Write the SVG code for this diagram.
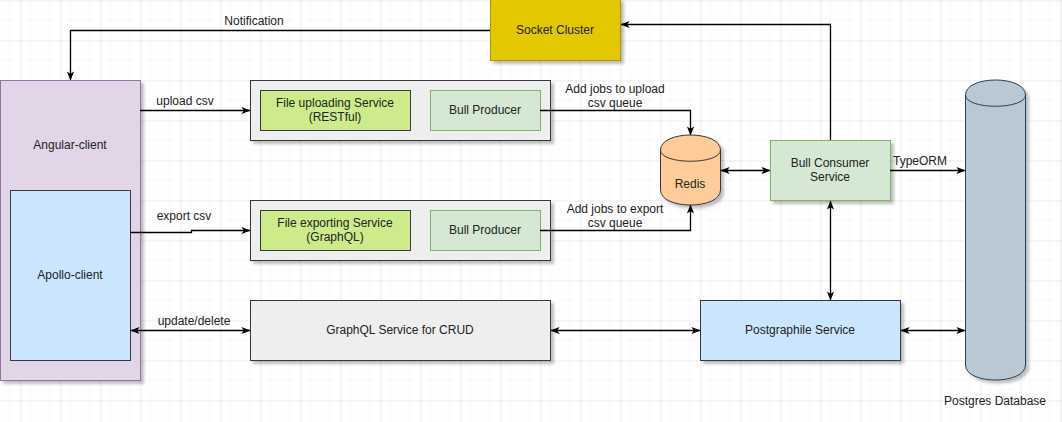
<svg xmlns="http://www.w3.org/2000/svg" width="1062" height="422" viewBox="0 0 1062 422">
<defs>
<pattern id="gmin" width="10" height="10" patternUnits="userSpaceOnUse" x="0.5" y="0.5"><path d="M10,0 V10 M0,10 H10" fill="none" stroke="#f2f2f2" stroke-width="1"/></pattern>
<pattern id="gmaj" width="40" height="40" patternUnits="userSpaceOnUse" x="20.5" y="0.5"><path d="M0,0 V40 M0,0 H40" fill="none" stroke="#dedede" stroke-width="1"/></pattern>
<filter id="sh" x="-10%" y="-10%" width="130%" height="130%"><feDropShadow dx="3" dy="3" stdDeviation="1.5" flood-color="#000" flood-opacity="0.25"/></filter>
<marker id="ar" viewBox="0 0 10 10" refX="9.5" refY="5" markerWidth="9" markerHeight="9" orient="auto-start-reverse" markerUnits="userSpaceOnUse"><path d="M0,1 L10,5 L0,9 L2.5,5 Z" fill="#000"/></marker>
<style>
.t{font-family:"Liberation Sans",Arial,sans-serif;font-size:12px;fill:#222;text-anchor:middle}
.tl{font-family:"Liberation Sans",Arial,sans-serif;font-size:12px;fill:#222}
.e{fill:none;stroke:#000;stroke-width:1.3}
.s{filter:url(#sh)}
</style>
</defs>
<rect width="1062" height="422" fill="#fff"/>
<rect width="1062" height="422" fill="url(#gmin)"/>
<rect width="1062" height="422" fill="url(#gmaj)"/>

<g id="angular-client"><rect class="s" x="0.5" y="80.5" width="140" height="300" fill="#e1d5e7" stroke="#9673a6"/><text class="t" x="70" y="149">Angular-client</text></g>
<g id="apollo-client"><rect x="10.5" y="190.5" width="120" height="170" fill="#cce5ff" stroke="#36393d"/><text class="t" x="70" y="279">Apollo-client</text></g>
<g id="socket-cluster"><rect class="s" x="490.5" y="-1" width="130" height="61.5" fill="#e3c800" stroke="#b09500"/><text class="t" x="555" y="34">Socket Cluster</text></g>

<g id="upload-group"><rect class="s" x="250.5" y="80.5" width="300" height="60" fill="#eeeeee" stroke="#36393d"/>
<g id="file-uploading"><rect x="260.5" y="90.5" width="150" height="40" fill="#cdeb8b" stroke="#36393d"/><text class="t" x="335" y="107">File uploading Service</text><text class="t" x="335" y="121">(RESTful)</text></g>
<g id="bull-producer-1"><rect x="430.5" y="90.5" width="110" height="40" fill="#d5e8d4" stroke="#82b366"/><text class="t" x="485" y="114">Bull Producer</text></g>
</g>

<g id="export-group"><rect class="s" x="250.5" y="200.5" width="300" height="60" fill="#eeeeee" stroke="#36393d"/>
<g id="file-exporting"><rect x="260.5" y="210.5" width="150" height="40" fill="#cdeb8b" stroke="#36393d"/><text class="t" x="335" y="227">File exporting Service</text><text class="t" x="335" y="241">(GraphQL)</text></g>
<g id="bull-producer-2"><rect x="430.5" y="210.5" width="110" height="40" fill="#d5e8d4" stroke="#82b366"/><text class="t" x="485" y="234">Bull Producer</text></g>
</g>

<g id="graphql-crud"><rect class="s" x="250.5" y="300.5" width="300" height="60" fill="#eeeeee" stroke="#36393d"/><text class="t" x="400" y="334">GraphQL Service for CRUD</text></g>

<g id="redis"><path class="s" d="M660.5,150 C660.5,130 720.5,130 720.5,150 L720.5,190 C720.5,210 660.5,210 660.5,190 Z" fill="#ffcc99" stroke="#36393d"/><path d="M660.5,150 C660.5,165 720.5,165 720.5,150" fill="none" stroke="#36393d"/><text class="t" x="690" y="188">Redis</text></g>

<g id="bull-consumer"><rect class="s" x="770.5" y="140.5" width="120" height="60" fill="#d5e8d4" stroke="#82b366"/><text class="t" x="830" y="167">Bull Consumer</text><text class="t" x="830" y="181">Service</text></g>

<g id="postgraphile"><rect class="s" x="700.5" y="300.5" width="200" height="60" fill="#cce5ff" stroke="#36393d"/><text class="t" x="800" y="334">Postgraphile Service</text></g>

<g id="postgres"><path class="s" d="M965.5,95 C965.5,75 1025.5,75 1025.5,95 L1025.5,365 C1025.5,385 965.5,385 965.5,365 Z" fill="#bac8d3" stroke="#23445d"/><path d="M965.5,95 C965.5,110 1025.5,110 1025.5,95" fill="none" stroke="#23445d"/><text class="t" x="995" y="405">Postgres Database</text></g>

<g id="connectors">
<path class="e" d="M490,30.5 H70.5 V80" marker-end="url(#ar)"/>
<path class="e" d="M830.5,140 V24.5 H621" marker-end="url(#ar)"/>
<path class="e" d="M140,110.5 H250" marker-end="url(#ar)"/>
<path class="e" d="M540,110.5 H690.5 V135" marker-end="url(#ar)"/>
<path class="e" d="M130.5,232.5 H191.5 V230.5 H250" marker-end="url(#ar)"/>
<path class="e" d="M540,230.5 H690.5 V205" marker-end="url(#ar)"/>
<path class="e" d="M721,170.5 H770" marker-start="url(#ar)" marker-end="url(#ar)"/>
<path class="e" d="M890,170.5 H965" marker-end="url(#ar)"/>
<path class="e" d="M830.5,201 V300" marker-start="url(#ar)" marker-end="url(#ar)"/>
<path class="e" d="M131,330.5 H250" marker-start="url(#ar)" marker-end="url(#ar)"/>
<path class="e" d="M551,330.5 H700" marker-start="url(#ar)" marker-end="url(#ar)"/>
<path class="e" d="M901,330.5 H965" marker-start="url(#ar)" marker-end="url(#ar)"/>
</g>
<g id="labels">
<text class="t" x="254" y="25">Notification</text>
<text class="t" x="185" y="105">upload csv</text>
<text class="t" x="184" y="220">export csv</text>
<text class="t" x="194" y="325">update/delete</text>
<text class="t" x="615" y="93">Add jobs to upload</text>
<text class="t" x="615" y="107">csv queue</text>
<text class="t" x="615" y="213">Add jobs to export</text>
<text class="t" x="615" y="227">csv queue</text>
<text class="tl" x="893" y="165">TypeORM</text>
</g>
</svg>
